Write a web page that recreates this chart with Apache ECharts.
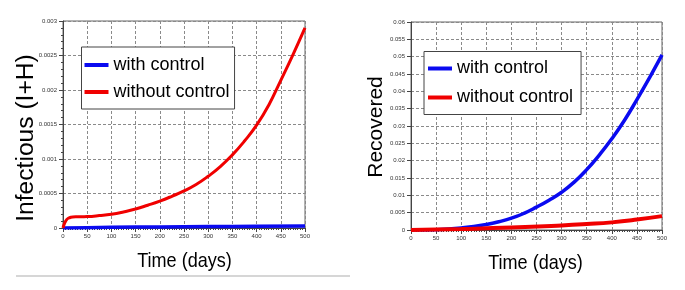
<!DOCTYPE html>
<html><head><meta charset="utf-8">
<script src="https://cdn.jsdelivr.net/npm/echarts@6/dist/echarts.min.js"></script>
<style>html,body{margin:0;padding:0;background:#fff}#c{width:685px;height:290px}</style>
</head><body><div id="c"></div>
<script>
// ---- data ----
const seriesNames = ['with control', 'without control'];
const infTime = [0, 4, 8, 12, 16, 20, 30, 40, 50, 75, 100, 125, 150, 175, 200, 225, 250, 275, 300, 325, 350, 375, 400, 425, 450, 475, 500];
const infWithout = [0, 0.00008, 0.000125, 0.000145, 0.000155, 0.00016, 0.000162, 0.000163, 0.000165, 0.00018, 0.0002, 0.000233, 0.000275, 0.00033, 0.00039, 0.00046, 0.000537, 0.00063, 0.00075, 0.00089, 0.00106, 0.00126, 0.00149, 0.00178, 0.00214, 0.00251, 0.0029];
const infWithTime = [0, 50, 100, 200, 300, 400, 500];
const infWith = [0, 0.000005, 0.00001, 0.000015, 0.00002, 0.000025, 0.00003];
const recTime = [0, 50, 75, 100, 125, 150, 175, 200, 225, 250, 275, 300, 325, 350, 375, 400, 425, 450, 475, 500];
const recWith = [0, 0.0001, 0.0003, 0.0006, 0.001, 0.0016, 0.0024, 0.0034, 0.0048, 0.0066, 0.0086, 0.0109, 0.0138, 0.0174, 0.0216, 0.0263, 0.0316, 0.0376, 0.0439, 0.0505];
const recWithoutTime = [0, 100, 200, 300, 350, 400, 450, 500];
const recWithout = [0, 0.0003, 0.0007, 0.0013, 0.0017, 0.0022, 0.003, 0.004];
const infTicks = ['0', '0.0005', '0.001', '0.0015', '0.002', '0.0025', '0.003'];
const recTicks = ['0', '0.005', '0.01', '0.015', '0.02', '0.025', '0.03', '0.035', '0.04', '0.045', '0.05', '0.055', '0.06'];
const titles = { infY: 'Infectious (I+H)', recY: 'Recovered', x: 'Time (days)' };

const pairs = (xs, ys) => xs.map((x, i) => [x, ys[i]]);
const FONT = '"Liberation Sans", Arial, sans-serif';
const BLUE = '#0a0af0', RED = '#f00000';

function xAxis(gi) {
  return {
    type: 'value', gridIndex: gi, min: 0, max: 500, interval: 50,
    axisLine: { show: true, lineStyle: { color: '#444', width: 1 } },
    axisTick: { show: true, length: 4, lineStyle: { color: '#444' } },
    minorTick: { show: true, splitNumber: 10, length: 2, lineStyle: { color: '#444' } },
    axisLabel: { fontSize: 6, color: '#333', margin: 5, fontFamily: FONT },
    splitLine: { show: true, lineStyle: { color: '#8a8a8a', type: [3, 2], width: 1 } }
  };
}
function yAxis(gi, max, interval, labels, minor) {
  return {
    type: 'value', gridIndex: gi, min: 0, max: max, interval: interval,
    axisLine: { show: true, lineStyle: { color: '#444', width: 1 } },
    axisTick: { show: true, length: 4, lineStyle: { color: '#444' } },
    minorTick: { show: minor, splitNumber: 5, length: 2, lineStyle: { color: '#444' } },
    axisLabel: {
      fontSize: 6, color: '#333', margin: 6, fontFamily: FONT,
      formatter: (v) => labels[Math.round(v / interval)]
    },
    splitLine: { show: true, lineStyle: { color: '#8a8a8a', type: [3, 2], width: 1 } }
  };
}
function legend(left, top, padding, gap) {
  return {
    orient: 'vertical', left: left, top: top, padding: padding, itemGap: gap,
    itemWidth: 24, itemHeight: 4, icon: 'rect',
    backgroundColor: '#fff', borderColor: '#444', borderWidth: 1,
    data: seriesNames,
    textStyle: { fontSize: 18, color: '#000', fontFamily: FONT, lineHeight: 18 }
  };
}
function line(name, data, color, w, xi) {
  return {
    type: 'line', name: name, xAxisIndex: xi, yAxisIndex: xi, data: data,
    smooth: 0.5, showSymbol: false, symbol: 'none',
    lineStyle: { color: color, width: w }, itemStyle: { color: color }
  };
}

const chart = echarts.init(document.getElementById('c'), null, { renderer: 'canvas' });
chart.setOption({
  animation: false,
  backgroundColor: '#fff',
  grid: [
    { left: 63, right: 380, top: 21, bottom: 62, show: true, borderColor: '#666', borderWidth: 1 },
    { left: 411, right: 23, top: 22, bottom: 60, show: true, borderColor: '#666', borderWidth: 1 }
  ],
  xAxis: [xAxis(0), xAxis(1)],
  yAxis: [yAxis(0, 0.003, 0.0005, infTicks, true), yAxis(1, 0.06, 0.005, recTicks, false)],
  legend: [
    legend(81.5, 47, [9, 5, 8, 3], 9),
    legend(424, 51.5, [8, 8, 8, 4], 11)
  ],
  graphic: [
    { type: 'text', x: 26.5, y: 138, rotation: Math.PI / 2, scaleX: 1.07,
      style: { text: titles.infY, fontSize: 23, fontFamily: FONT, fill: '#000', align: 'center', verticalAlign: 'middle' } },
    { type: 'text', x: 376, y: 127, rotation: Math.PI / 2,
      style: { text: titles.recY, fontSize: 21, fontFamily: FONT, fill: '#000', align: 'center', verticalAlign: 'middle' } },
    { type: 'text', x: 184.5, y: 261, scaleX: 0.86,
      style: { text: titles.x, fontSize: 21, fontFamily: FONT, fill: '#000', align: 'center', verticalAlign: 'middle' } },
    { type: 'text', x: 535.5, y: 263, scaleX: 0.86,
      style: { text: titles.x, fontSize: 21, fontFamily: FONT, fill: '#000', align: 'center', verticalAlign: 'middle' } },
    { type: 'line', shape: { x1: 16, y1: 276, x2: 350, y2: 276 }, style: { stroke: '#c8c8c8', lineWidth: 1.5 } }
  ],
  series: [
    line(seriesNames[0], pairs(infWithTime, infWith), BLUE, 3.5, 0),
    line(seriesNames[1], pairs(infTime, infWithout), RED, 3, 0),
    line(seriesNames[0], pairs(recTime, recWith), BLUE, 3.5, 1),
    line(seriesNames[1], pairs(recWithoutTime, recWithout), RED, 4, 1)
  ]
});
</script>
</body></html>
